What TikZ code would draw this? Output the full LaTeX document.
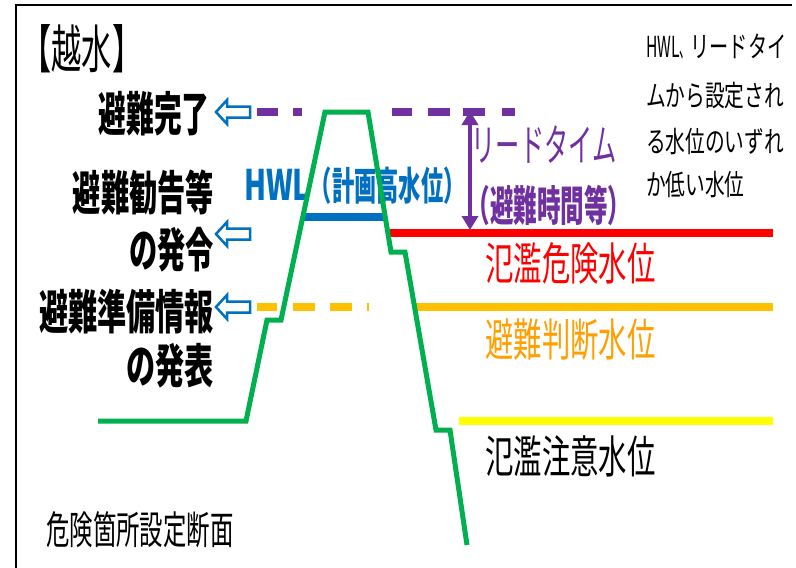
\documentclass[tikz,border=0pt]{standalone}
\usepackage{fontspec}
\usetikzlibrary{arrows.meta}
\newfontfamily\jp{Noto Sans CJK JP}
\definecolor{dgreen}{RGB}{0,176,80}
\definecolor{dblue}{RGB}{0,112,192}
\definecolor{dpurple}{RGB}{112,48,160}
\definecolor{dorange}{RGB}{255,192,0}
\definecolor{torange}{RGB}{255,160,0}
\definecolor{dyellow}{RGB}{255,255,0}
\newcommand{\hsq}[2]{\scalebox{#1}[1]{#2}}
\newcommand{\jfs}[1]{\fontsize{#1}{#1}\selectfont}
\newcommand{\blarrow}[2]{\draw[dblue,line width=2.5pt,fill=white,line join=miter] (#1,#2) -- ++(11,-12) -- ++(0,6.5) -- ++(23,0) -- ++(0,11) -- ++(-23,0) -- ++(0,6.5) -- cycle;}
\begin{document}
\begin{tikzpicture}[x=1pt,y=-1pt,
  txt/.style={inner sep=0pt,outer sep=0pt},
  levelline/.style={line width=8pt},
  dike/.style={dgreen,line width=5pt,line join=miter}]
\useasboundingbox (0,0) rectangle (796,568);
\fill[white] (0,0) rectangle (796,568);
% frame
\draw[line width=2pt] (16,568) -- (16,5) -- (792,5);

% title and labels
\node[txt,font=\jp\jfs{52}] (title) at (82,49) {\hsq{0.58}{【越水】}};
\node[txt,font=\jp\bfseries\jfs{47}] (kanryo) at (154,114) {\hsq{0.59}{避難完了}};
\node[txt,font=\jp\bfseries\jfs{47},anchor=east] (kankoku) at (214,192) {\hsq{0.6}{避難勧告等}};
\node[txt,font=\jp\bfseries\jfs{47},anchor=east] (hatsurei) at (214,250) {\hsq{0.6}{の発令}};
\node[txt,font=\jp\bfseries\jfs{47},anchor=east] (junbi) at (214,312) {\hsq{0.62}{避難準備情報}};
\node[txt,font=\jp\bfseries\jfs{47},anchor=east] (happyo) at (214,366) {\hsq{0.62}{の発表}};

% blue hollow arrows
\blarrow{216}{112}
\blarrow{216}{234}
\blarrow{216}{307}

% purple dashed line (evacuation complete)
\foreach \a/\b in {257/278,293/302,392/412,428/450,463/485,502/515}
  \draw[dpurple,line width=8pt] (\a,112) -- (\b,112);
% orange dashed line
\foreach \a/\b in {257/277,293/315,330/352,367/369}
  \draw[dorange,line width=8pt] (\a,307) -- (\b,307);

% HWL
\draw[levelline,dblue] (302,217) -- (385,217);
\node[txt,anchor=west,text=dblue,font=\jp\bfseries] (hwl) at (244,186)
  {\hsq{0.68}{\jfs{42}HWL}\hsq{0.57}{\jfs{39}（計画高水位）}};

% level lines
\draw[levelline,red] (390,233) -- (773,233);
\draw[levelline,dorange] (413,307) -- (773,307);
\draw[levelline,dyellow] (459,421) -- (773,421);

% dike profile
\draw[dike] (98,421) -- (246,421) -- (267,320) -- (281,320) -- (325,112) -- (368,112)
  -- (391,252) -- (405,252) -- (436,430) -- (450,430) -- (467,545);

% lead time arrow
\coordinate (lt) at (470,111);
\coordinate (lb) at (470,230);
\draw[dpurple,line width=4.5pt,{Triangle[width=16pt,length=14pt]}-{Triangle[width=16pt,length=14pt]}] (lt) -- (lb);
\node[txt,font=\jp\jfs{44},text=dpurple] (lead) at (544,145) {\hsq{0.55}{リードタイム}};
\node[txt,font=\jp\bfseries\jfs{42},text=dpurple] (leadsub) at (549,205) {\hsq{0.56}{（避難時間等）}};

% level labels
\node[txt,font=\jp\jfs{45},text=red] (kiken) at (570.5,263) {\hsq{0.63}{氾濫危険水位}};
\node[txt,font=\jp\jfs{45},text=torange] (handan) at (570.5,340) {\hsq{0.63}{避難判断水位}};
\node[txt,font=\jp\jfs{45}] (chui) at (570.5,456) {\hsq{0.63}{氾濫注意水位}};

% top-right note
\node[txt,font=\jp\jfs{29},anchor=west] (tr1) at (646,47) {\hsq{0.54}{HWL}\hsq{0.38}{、}\hsq{0.66}{リードタイ}};
\node[txt,font=\jp\jfs{29},anchor=west] (tr2) at (646,96) {\hsq{0.68}{ムから設定され}};
\node[txt,font=\jp\jfs{29},anchor=west] (tr3) at (646,142) {\hsq{0.68}{る水位のいずれ}};
\node[txt,font=\jp\jfs{29},anchor=west] (tr4) at (646,185) {\hsq{0.68}{か低い水位}};

% bottom caption
\node[txt,font=\jp\jfs{39}] (danmen) at (140,530) {\hsq{0.6}{危険箇所設定断面}};
\end{tikzpicture}
\end{document}
